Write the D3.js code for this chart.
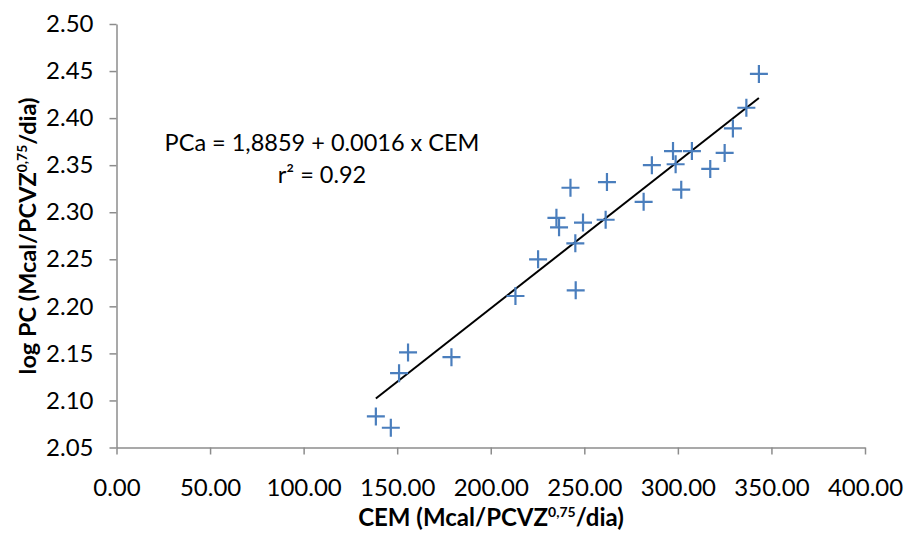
<!DOCTYPE html>
<html>
<head>
<meta charset="utf-8">
<script src="https://cdn.jsdelivr.net/npm/d3@7"></script>
<style>
  html, body { margin: 0; padding: 0; background: #fff; }
  svg { display: block; font-family: Lato, "Open Sans", sans-serif; }
</style>
</head>
<body>
<svg id="chart" width="906" height="533"></svg>
<script>
// CEM (Mcal/PCVZ^0.75/dia) against log PC
const cem = [138.6, 146.6, 151.0, 155.8, 179.0, 213.2, 225.3, 235.1, 236.5, 242.6,
             245.2, 245.4, 249.3, 261.4, 262.1, 281.7, 286.1, 297.4, 298.8, 301.8,
             307.5, 317.3, 325.0, 329.4, 336.6, 343.3];
const logPC = [2.083, 2.071, 2.129, 2.151, 2.146, 2.211, 2.250, 2.294, 2.284, 2.326,
               2.267, 2.217, 2.289, 2.292, 2.332, 2.311, 2.350, 2.365, 2.351, 2.324,
               2.365, 2.346, 2.363, 2.389, 2.411, 2.447];

// Linear fit shown on the chart
const intercept = 1.8859;
const slope = 0.00156;
const r2 = 0.92;

const xTicks = [0, 50, 100, 150, 200, 250, 300, 350, 400];
const yTicks = [2.05, 2.10, 2.15, 2.20, 2.25, 2.30, 2.35, 2.40, 2.45, 2.50];

const svg = d3.select("#chart");
const axisColor = "#8c8c8c";
const markColor = "#4a7ebd";

const x = d3.scaleLinear().domain([0, 400]).range([116.5, 865]);
const y = d3.scaleLinear().domain([2.05, 2.50]).range([447.5, 24]);

// Axes
const xAxis = svg.append("g")
  .attr("transform", `translate(0,${y(2.05)})`)
  .call(d3.axisBottom(x).tickValues(xTicks).tickFormat(d3.format(".2f"))
        .tickSize(7).tickSizeOuter(0).tickPadding(24));
const yAxis = svg.append("g")
  .attr("transform", `translate(${x(0)},0)`)
  .call(d3.axisLeft(y).tickValues(yTicks).tickFormat(d3.format(".2f"))
        .tickSize(7).tickSizeOuter(0).tickPadding(16));

[xAxis, yAxis].forEach(g => {
  g.select(".domain").attr("stroke", axisColor).attr("stroke-width", 1.5);
  g.selectAll(".tick line").attr("stroke", axisColor).attr("stroke-width", 1.5);
  g.selectAll(".tick text")
    .attr("fill", "#000")
    .style("font-family", "Lato, sans-serif")
    .style("font-size", "24px");
});

// Trend line over the data range
const xMin = d3.min(cem), xMax = d3.max(cem);
svg.append("line")
  .attr("x1", x(xMin)).attr("y1", y(intercept + slope * xMin))
  .attr("x2", x(xMax)).attr("y2", y(intercept + slope * xMax))
  .attr("stroke", "#000").attr("stroke-width", 2);

// Points drawn as plus markers
svg.append("g").selectAll("path")
  .data(d3.zip(cem, logPC))
  .join("path")
  .attr("transform", d => `translate(${x(d[0])},${y(d[1])})`)
  .attr("d", "M-9,0H9M0,-9V9")
  .attr("stroke", markColor)
  .attr("stroke-width", 2.2)
  .attr("fill", "none");

// Equation annotation
const eq = svg.append("g").style("font-size", "23.5px").attr("fill", "#000");
eq.append("text")
  .attr("x", 322).attr("y", 151).attr("text-anchor", "middle")
  .text(`PCa = ${d3.format(".4f")(intercept).replace(".", ",")} + ${d3.format(".4f")(slope)} x CEM`);
eq.append("text")
  .attr("x", 322).attr("y", 183).attr("text-anchor", "middle")
  .text(`r² = ${r2.toFixed(2)}`);

// Axis titles with superscript exponent
const xTitle = svg.append("text")
  .attr("x", 491).attr("y", 526).attr("text-anchor", "middle")
  .style("font-size", "24px").style("font-weight", "bold");
xTitle.append("tspan").text("CEM (Mcal/PCVZ");
xTitle.append("tspan").attr("dy", -9).style("font-size", "14px").text("0,75");
xTitle.append("tspan").attr("dy", 9).text("/dia)");

const yTitle = svg.append("text")
  .attr("transform", `translate(36,236) rotate(-90)`)
  .attr("text-anchor", "middle")
  .style("font-size", "23.5px").style("font-weight", "bold");
yTitle.append("tspan").text("log PC (Mcal/PCVZ");
yTitle.append("tspan").attr("dy", -9).style("font-size", "14px").text("0,75");
yTitle.append("tspan").attr("dy", 9).text("/dia)");
</script>
</body>
</html>
